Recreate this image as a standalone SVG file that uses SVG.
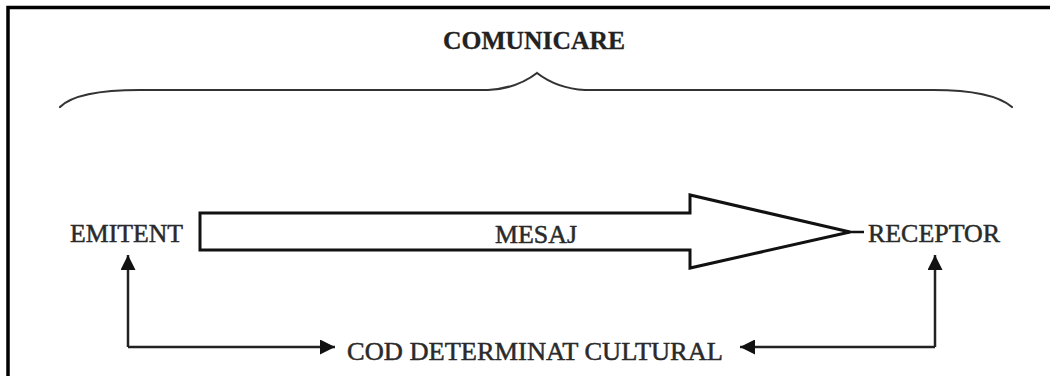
<svg xmlns="http://www.w3.org/2000/svg" width="1050" height="376" viewBox="0 0 1050 376">
  <style>
    .lbl { font-family: "Liberation Serif", "Times New Roman", serif; font-size: 26px; fill: #2a2a2a; stroke: #2a2a2a; stroke-width: 0.5; }
    .title { font-family: "Liberation Serif", "Times New Roman", serif; font-size: 25px; font-weight: bold; fill: #222; stroke: #222; stroke-width: 0.3; }
    .frame { fill: none; stroke: #000; stroke-width: 3.5; }
    .brace { fill: none; stroke: #333; stroke-width: 2.2; stroke-linecap: round; }
    .flow { fill: #fff; stroke: #111; stroke-width: 3; stroke-linejoin: miter; }
    .link { fill: none; stroke: #222; stroke-width: 2.5; }
  </style>
  <defs>
    <marker id="head" viewBox="0 0 10 10" refX="10" refY="5" markerWidth="6" markerHeight="6" markerUnits="strokeWidth" orient="auto">
      <path d="M0,0 L10,5 L0,10 Z" fill="#111"/>
    </marker>
  </defs>

  <rect width="1050" height="376" fill="#fff"/>
  <!-- frame: top and left edges -->
  <path class="frame" d="M8,376 L8,7.5 L1050,7.5"/>

  <!-- title and curly brace -->
  <g id="comunicare">
    <text class="title" x="534" y="49" text-anchor="middle" textLength="182" lengthAdjust="spacingAndGlyphs">COMUNICARE</text>
    <path class="brace" d="M60,107 C72,95 100,90 140,90 L488,90 C508,89 524,83 537,73 C550,83 566,89 585,90 L933,90 C972,90 998,95 1012,107"/>
  </g>

  <g id="emitent">
    <text class="lbl" x="70" y="242" textLength="113" lengthAdjust="spacingAndGlyphs">EMITENT</text>
  </g>

  <g id="receptor">
    <text class="lbl" x="868" y="242" textLength="132" lengthAdjust="spacingAndGlyphs">RECEPTOR</text>
  </g>

  <g id="mesaj">
    <polygon class="flow" points="200,213 690,213 690,195 850,232 690,268 690,250 200,250"/>
    <text class="lbl" x="536" y="243" text-anchor="middle" textLength="82" lengthAdjust="spacingAndGlyphs">MESAJ</text>
  </g>

  <g id="cod">
    <text class="lbl" x="347" y="360" textLength="376" lengthAdjust="spacingAndGlyphs">COD DETERMINAT CULTURAL</text>
  </g>

  <g id="connectors">
    <line x1="848" y1="232" x2="864" y2="232" stroke="#111" stroke-width="2.5"/>
    <path class="link" d="M128,347 L128,255" marker-end="url(#head)"/>
    <path class="link" d="M128,347 L335,347" marker-end="url(#head)"/>
    <path class="link" d="M935,347 L935,255" marker-end="url(#head)"/>
    <path class="link" d="M935,347 L740,347" marker-end="url(#head)"/>
  </g>
</svg>
